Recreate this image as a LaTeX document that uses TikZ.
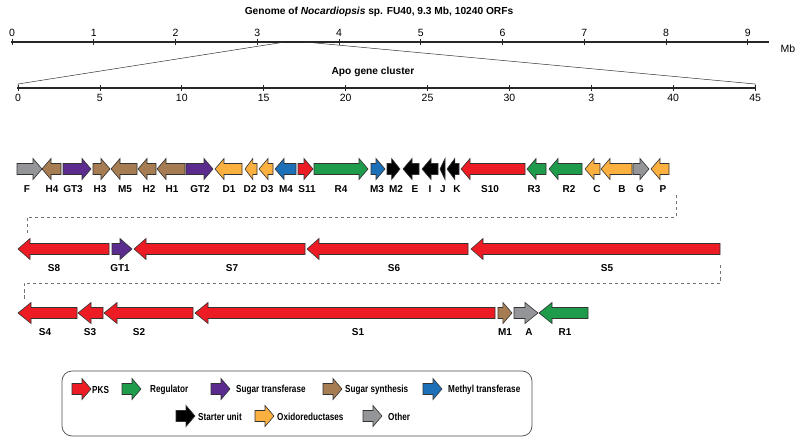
\documentclass[tikz,border=0pt]{standalone}
\usepackage{fontspec}
\setmainfont{Liberation Sans}
\newfontfamily\narrowfont[FakeStretch=0.8]{Liberation Sans}
\usetikzlibrary{calc}
\definecolor{pks}{HTML}{ED1C24}
\definecolor{regulator}{HTML}{1E9B4B}
\definecolor{sugartrans}{HTML}{5B2C8E}
\definecolor{sugarsyn}{HTML}{A67C52}
\definecolor{methyl}{HTML}{1C70B8}
\definecolor{starter}{HTML}{000000}
\definecolor{oxidored}{HTML}{FBB040}
\definecolor{othergene}{HTML}{939598}
\tikzset{
  axisline/.style={line width=1.3pt, black!85},
  axistick/.style={line width=0.8pt, black!85},
  zoomline/.style={line width=0.5pt, black!80},
  gene/.style={draw=black!80, line width=0.6pt, line join=miter},
  genelabel/.style={font=\bfseries\fontsize{10}{12}\selectfont, inner sep=0pt},
  ticklabel/.style={font=\fontsize{10.5}{12}\selectfont, inner sep=0pt},
  heading/.style={font=\bfseries\fontsize{10.2}{12}\selectfont, inner sep=0pt},
  rowlink/.style={draw=black!55, dash pattern=on 3.5pt off 2.5pt, line width=0.6pt},
  legendbox/.style={draw=black!70, line width=0.7pt, rounded corners=10pt},
  legendtext/.style={font=\narrowfont\bfseries\fontsize{10.2}{12}\selectfont, anchor=west, inner sep=0pt}
}
% one ORF as a block arrow: tail x, tip x, row y, max head length, colour
\newcommand{\genebody}[5]{%
  \pgfmathsetmacro\glen{abs((#2)-(#1))}
  \pgfmathsetmacro\ghead{\glen<7 ? \glen : min(#4,0.65*\glen)}
  \pgfmathsetmacro\gneck{(#2)-((#2)>(#1) ? 1 : -1)*\ghead}
  \draw[gene, fill=#5] (#1,#3-5.5) -- (\gneck,#3-5.5) -- (\gneck,#3-10.5) -- (#2,#3)
    -- (\gneck,#3+10.5) -- (\gneck,#3+5.5) -- (#1,#3+5.5) -- cycle;
}
\begin{document}
\begin{tikzpicture}[x=1pt,y=-1pt]
  \useasboundingbox (0,0) rectangle (800,446);

  % genome scale
  \node[heading] (title) at (379,12) {Genome of \textit{Nocardiopsis} sp. FU40, 9.3 Mb, 10240 ORFs};
  \coordinate (genomeL) at (11,42);
  \coordinate (genomeR) at (769,42);
  \draw[axisline] (genomeL) -- (genomeR);
  \foreach \i in {0,...,9}{
    \draw[axistick] (12+81.75*\i,39) -- (12+81.75*\i,45);
    \node[ticklabel] (mb\i) at (12+81.75*\i,33) {\i};
  }
  \node[ticklabel] (mbunit) at (788,49) {Mb};

  % zoom into the cluster
  \node[heading] (clustertitle) at (373,72) {Apo gene cluster};
  \coordinate (zoomL) at (285,42);
  \coordinate (zoomR) at (305,42);
  \coordinate (clusterL) at (18,84);
  \coordinate (clusterR) at (755,84);
  \draw[zoomline] (zoomL) -- (clusterL) -- ++(0,4);
  \draw[zoomline] (zoomR) -- (clusterR) -- ++(0,4);
  \draw[axisline] (17,88) -- (756,88);
  \foreach \i/\t in {0/0,1/5,2/10,3/15,4/20,5/25,6/30,7/3,8/40,9/45}{
    \draw[axistick] (18+81.9*\i,85) -- ++(0,6);
    \node[ticklabel] (kb\i) at (18+81.9*\i,98) {\t};
  }

  % row 1
  \foreach \tl/\tp/\c/\n/\lx in {17/42/othergene/F/27, 61/42/sugarsyn/H4/52,
      63/91/sugartrans/GT3/73, 93/110/sugarsyn/H3/100, 137/111/sugarsyn/M5/125,
      156/138/sugarsyn/H2/149, 185/157/sugarsyn/H1/172, 186/213/sugartrans/GT2/200,
      242/215/oxidored/D1/229, 257/245/oxidored/D2/250, 273/259/oxidored/D3/267,
      296/275/methyl/M4/286, 298/313/pks/S11/307, 314/368/regulator/R4/341,
      371/385/methyl/M3/377, 387/400/starter/M2/396, 419/403/starter/E/415,
      438/422/starter/I/430, 445/440/starter/J/443, 459/447/starter/K/457,
      525/461/pks/S10/490, 546/527/regulator/R3/534, 582/549/regulator/R2/569,
      600/585/oxidored/C/597, 632/601/oxidored/B/622, 633/649/othergene/G/640,
      669/651/oxidored/P/663}{
    \genebody{\tl}{\tp}{169}{9}{\c}
    \node[genelabel] (\n) at (\lx,189) {\n};
  }
  \coordinate (link1a) at (676,195);
  \coordinate (link1b) at (27,233);
  \draw[rowlink] (link1a) -- ++(0,22) -| (link1b);

  % row 2
  \foreach \tl/\tp/\c/\n/\lx in {109/18/pks/S8/54, 112/132/sugartrans/GT1/120,
      305/134/pks/S7/232, 468/307/pks/S6/394, 720/471/pks/S5/607}{
    \genebody{\tl}{\tp}{249}{12}{\c}
    \node[genelabel] (\n) at (\lx,268) {\n};
  }
  \coordinate (link2a) at (720,265);
  \coordinate (link2b) at (24,300);
  \draw[rowlink] (link2a) -- ++(0,18) -| (link2b);

  % row 3
  \foreach \tl/\tp/\c/\n/\lx in {77/18/pks/S4/45, 103/78/pks/S3/90,
      193/104/pks/S2/139, 495/195/pks/S1/358, 498/512/sugarsyn/M1/505,
      514/538/othergene/A/529, 588/539/regulator/R1/565}{
    \genebody{\tl}{\tp}{313}{13}{\c}
    \node[genelabel] (\n) at (\lx,332) {\n};
  }

  % legend
  \draw[legendbox] (62,371) rectangle (532,436);
  \foreach \ax/\ay/\c/\tx/\t in {72/389/pks/92/PKS, 122/389/regulator/150/Regulator,
      211/389/sugartrans/236/Sugar transferase, 323/389/sugarsyn/345/Sugar synthesis,
      423/389/methyl/448/Methyl transferase, 176/416/starter/198/Starter unit,
      255/416/oxidored/277/Oxidoreductases, 363/416/othergene/388/Other}{
    \genebody{\ax}{\ax+19}{\ay}{9}{\c}
    \node[legendtext] (key-\c) at (\tx,\ay+1) {\t};
  }
\end{tikzpicture}
\end{document}
